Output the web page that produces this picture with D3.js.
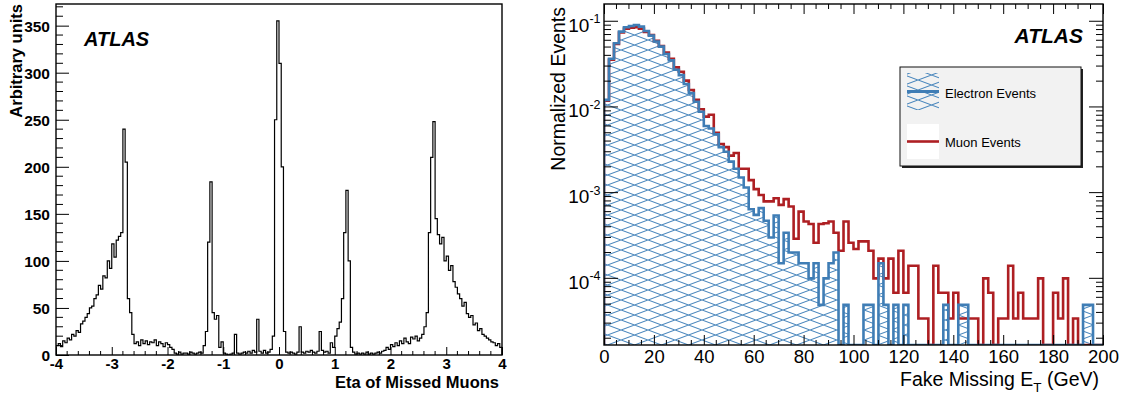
<!DOCTYPE html>
<html><head><meta charset="utf-8">
<script src="https://cdn.jsdelivr.net/npm/d3@7"></script>
<style>
body{margin:0;background:#fff;}
svg{display:block;}
text{font-family:"Liberation Sans",Arial,Helvetica,sans-serif;}
</style>
</head><body>
<svg id="c" width="1129" height="396"></svg>
<script>
// ---------------- data ----------------
// Left panel: eta of missed muons, bins of 0.04 from -4 to 4 (arbitrary units)
const etaRange = [-4, 4];
const etaBinWidth = 0.04;
const missedMuonEta = [
  10,12,9,15,13,18,16,22,20,26,24,33,36,40,44,50,52,60,64,74,70,84,82,100,92,118,104,122,126,130,
  240,205,60,45,22,12,
  14,10,16,12,15,11,14,13,16,10,14,12,9,13,11,8,6,
  2,1,3,1,2,2,1,3,2,1,2,3,2,
  10,25,120,184,45,38,42,8,14,2,
  1,0,1,2,22,2,1,2,3,2,4,2,5,3,38,4,2,5,2,3,6,
  20,250,355,310,200,25,
  3,2,3,2,1,3,
  30,
  3,2,4,3,5,3,2,4,
  25,
  5,3,4,2,
  13,
  8,20,28,35,60,130,175,100,8,
  3,1,2,1,2,1,3,1,2,1,2,3,2,4,
  5,8,6,11,9,13,10,15,12,18,14,12,19,17,20,15,18,22,30,45,
  130,210,248,145,128,118,125,100,105,90,95,78,72,65,60,52,56,44,40,42,32,34,26,28,22,20,18,16,14,13,10,12,8
];
const leftYTicks = [0,50,100,150,200,250,300,350];
const leftXTicks = [-4,-3,-2,-1,0,1,2,3,4];

// Right panel: fake missing ET, bins of 2 GeV from 0 to 200 (normalized)
const metRange = [0, 200];
const metBinWidth = 2;
const electronEvents = [
  0.0121,0.0365,0.0553,0.0756,0.085,0.088,0.0905,0.0865,0.077,0.068,
  0.058,0.0506,0.0415,0.035,0.0272,0.0235,0.0185,0.0145,0.0115,0.0088,
  0.006,0.0056,0.0048,0.0034,0.003,0.0023,0.0019,0.0015,0.00115,0.00064,
  0.00055,0.00066,0.00047,0.0003,0.00054,0.00015,0.00034,0.0002,0.0002,0.00015,
  0.00015,0.0001,0.00015,0.000049,0.0001,0.00015,0.0002,0,0.000049,0,
  0,0,0.000049,0.000049,0,0.00015,0.000049,0,0.000049,0,
  0.000049,0,0,0,0,0,0,0,0.000049,0,
  0,0.000049,0.000049,0,0,0,0,0,0,0,
  0,0,0,0,0,0,0,0,0,0,
  0,0,0,0,0,0,0.000049,0.000049,0,0
];
const muonEvents = [
  0.0118,0.0355,0.0545,0.074,0.082,0.084,0.085,0.082,0.075,0.069,
  0.059,0.0515,0.043,0.0365,0.029,0.0258,0.0203,0.0158,0.0121,0.0094,
  0.0077,0.0081,0.005,0.0037,0.0034,0.0027,0.0029,0.0019,0.0019,0.0014,
  0.0011,0.00094,0.00079,0.00079,0.00086,0.00072,0.00084,0.00069,0.00029,0.0006,
  0.00046,0.00043,0.00026,0.00043,0.00044,0.00046,0.00034,0.00021,0.00046,0.00026,
  0.00022,0.00027,0.00027,0.00021,0.0001,0.00017,0.0001,0.00017,0.000068,0.00021,
  0.000068,0.00014,0.00014,0.000034,0.000034,0,0.00014,0.000068,0.000068,0.000034,
  0.000068,0.000034,0.000034,0.000034,0.000034,0,0.0001,0.000068,0,0.000034,
  0.000034,0.00014,0.000034,0.000068,0.000034,0.000034,0.000034,0.0001,0,0,
  0.000068,0.000034,0.0001,0,0.000034,0,0,0,0,0
];
const rightXTicks = [0,20,40,60,80,100,120,140,160,180,200];
const rightYExponents = [-1,-2,-3,-4];
const legendLabels = ["Electron Events","Muon Events"];

// ---------------- drawing ----------------
const svg = d3.select("#c");
const blue = "#3f7db5", hatchBlue = "#4a87bd", red = "#ae1f23";

const defs = svg.append("defs");
const pat = defs.append("pattern").attr("id","hatch").attr("patternUnits","userSpaceOnUse")
  .attr("width",27).attr("height",10);
pat.append("path").attr("d","M0,0L27,10M0,10L27,0").attr("stroke",hatchBlue).attr("stroke-width",1.1).attr("fill","none");

// ===== Left panel =====
const L = {x0:56, x1:502, y0:4, y1:355};
const xL = d3.scaleLinear().domain(etaRange).range([L.x0, L.x1]);
const yL = d3.scaleLinear().domain([0,373]).range([L.y1, L.y0]);

defs.append("clipPath").attr("id","clipL").append("rect")
  .attr("x",L.x0).attr("y",L.y0).attr("width",L.x1-L.x0).attr("height",L.y1-L.y0);

const ptsL = [[xL(etaRange[0]), yL(0)]];
missedMuonEta.forEach((v,k)=>{
  const lo = etaRange[0] + k*etaBinWidth, hi = lo + etaBinWidth;
  ptsL.push([xL(lo), yL(v)], [xL(hi), yL(v)]);
});
ptsL.push([xL(etaRange[1]), yL(0)]);
svg.append("path").attr("clip-path","url(#clipL)")
  .attr("d", d3.line()(ptsL)).attr("fill","none").attr("stroke","#000").attr("stroke-width",1.2);

// left y axis
const gLy = svg.append("g").attr("transform",`translate(${L.x0},0)`)
  .call(d3.axisLeft(yL).tickValues(leftYTicks).tickSize(-13).tickPadding(6).tickFormat(d=>String(d)));
gLy.select(".domain").remove();
gLy.selectAll("text").attr("font-size",15.5).attr("font-weight","bold").attr("font-family","Liberation Sans, Arial").attr("dy","0.36em");
gLy.selectAll("line").attr("stroke","#000");
d3.range(0,371,10).filter(v=>v%50!==0).forEach(v=>{
  svg.append("line").attr("x1",L.x0).attr("x2",L.x0+7).attr("y1",yL(v)).attr("y2",yL(v)).attr("stroke","#000");
});
// left x axis
const gLx = svg.append("g").attr("transform",`translate(0,${L.y1})`)
  .call(d3.axisBottom(xL).tickValues(leftXTicks).tickSize(-8).tickPadding(3).tickFormat(d=>String(d)));
gLx.select(".domain").remove();
gLx.selectAll("text").attr("font-size",15).attr("font-weight","bold").attr("font-family","Liberation Sans, Arial");
gLx.selectAll("line").attr("stroke","#000");
d3.range(-4,4.001,0.2).forEach(v=>{
  if (Math.abs(v-Math.round(v))<1e-6) return;
  svg.append("line").attr("x1",xL(v)).attr("x2",xL(v)).attr("y1",L.y1).attr("y2",L.y1-4).attr("stroke","#000");
});
svg.append("rect").attr("x",L.x0).attr("y",L.y0).attr("width",L.x1-L.x0).attr("height",L.y1-L.y0)
  .attr("fill","none").attr("stroke","#000").attr("stroke-width",1.4);

svg.append("text").attr("x",84).attr("y",46).attr("font-size",20).attr("font-weight","bold")
  .attr("font-style","italic").text("ATLAS");
svg.append("text").attr("transform","translate(22,4) rotate(-90)").attr("text-anchor","end")
  .attr("font-size",16.5).attr("font-weight","bold").text("Arbitrary units");
svg.append("text").attr("x",499).attr("y",388).attr("text-anchor","end")
  .attr("font-size",16.5).attr("font-weight","bold").text("Eta of Missed Muons");

// ===== Right panel =====
const R = {x0:604, x1:1103, y0:4, y1:345};
const xR = d3.scaleLinear().domain(metRange).range([R.x0, R.x1]);
const yR = d3.scaleLog().domain([1.667e-5, 0.159]).range([R.y1, R.y0]).clamp(true);
const yv = v => v > 0 ? yR(v) : R.y1;

defs.append("clipPath").attr("id","clipR").append("rect")
  .attr("x",R.x0).attr("y",R.y0).attr("width",R.x1-R.x0).attr("height",R.y1-R.y0);

function histPts(vals){
  const p = [[xR(metRange[0]), R.y1]];
  vals.forEach((v,i)=>{
    const lo = metRange[0] + i*metBinWidth, hi = lo + metBinWidth;
    p.push([xR(lo), yv(v)], [xR(hi), yv(v)]);
  });
  p.push([xR(metRange[1]), R.y1]);
  return p;
}
const gR = svg.append("g").attr("clip-path","url(#clipR)");
gR.append("path").attr("d", d3.line()(histPts(electronEvents))+"Z").attr("fill","url(#hatch)").attr("stroke","none");
gR.append("path").attr("d", d3.line()(histPts(muonEvents))).attr("fill","none")
  .attr("stroke",red).attr("stroke-width",2.6);
gR.append("path").attr("d", d3.line()(histPts(electronEvents))).attr("fill","none")
  .attr("stroke",blue).attr("stroke-width",2.6);

// x axes (bottom with labels, top ticks only)
const gRx = svg.append("g").attr("transform",`translate(0,${R.y1})`)
  .call(d3.axisBottom(xR).tickValues(rightXTicks).tickSize(-10).tickPadding(5).tickFormat(d=>String(d)));
gRx.select(".domain").remove();
gRx.selectAll("text").attr("font-size",18.5).attr("font-family","Liberation Sans, Arial");
gRx.selectAll("line").attr("stroke","#000");
const gRxt = svg.append("g").attr("transform",`translate(0,${R.y0})`)
  .call(d3.axisTop(xR).tickValues(rightXTicks).tickSize(-10).tickFormat(""));
gRxt.select(".domain").remove();
gRxt.selectAll("line").attr("stroke","#000");
d3.range(0,201,5).filter(v=>v%20!==0).forEach(v=>{
  svg.append("line").attr("x1",xR(v)).attr("x2",xR(v)).attr("y1",R.y1).attr("y2",R.y1-5).attr("stroke","#000");
  svg.append("line").attr("x1",xR(v)).attr("x2",xR(v)).attr("y1",R.y0).attr("y2",R.y0+5).attr("stroke","#000");
});
// y axes (log)
const decadeVals = rightYExponents.map(e=>Math.pow(10,e));
[["L",R.x0,1],["R",R.x1,-1]].forEach(([s,x,dir])=>{
  decadeVals.forEach(v=>{
    svg.append("line").attr("x1",x).attr("x2",x+dir*14).attr("y1",yR(v)).attr("y2",yR(v)).attr("stroke","#000");
  });
  [-5,-4,-3,-2,-1].forEach(e=>{
    for(let m=2;m<=9;m++){
      const v = m*Math.pow(10,e);
      if (v < yR.domain()[0] || v > yR.domain()[1]) continue;
      svg.append("line").attr("x1",x).attr("x2",x+dir*7).attr("y1",yR(v)).attr("y2",yR(v)).attr("stroke","#000");
    }
  });
});
rightYExponents.forEach(e=>{
  const y = yR(Math.pow(10,e));
  const t = svg.append("text").attr("x",600.5).attr("y",y+10.5).attr("text-anchor","end").attr("font-size",19);
  t.append("tspan").text("10");
  t.append("tspan").attr("font-size",12.5).attr("dy",-8.5).text(String(e));
});
svg.append("rect").attr("x",R.x0).attr("y",R.y0).attr("width",R.x1-R.x0).attr("height",R.y1-R.y0)
  .attr("fill","none").attr("stroke","#000").attr("stroke-width",1.4);

svg.append("text").attr("transform","translate(565,7) rotate(-90)").attr("text-anchor","end")
  .attr("font-size",19.5).text("Normalized Events");
const xt = svg.append("text").attr("x",1099).attr("y",385.5).attr("text-anchor","end").attr("font-size",19.5);
xt.append("tspan").text("Fake Missing E");
xt.append("tspan").attr("font-size",13.5).attr("dy",6).text("T");
xt.append("tspan").attr("dy",-6).text(" (GeV)");

svg.append("text").attr("x",1083).attr("y",43).attr("text-anchor","end").attr("font-size",21)
  .attr("font-weight","bold").attr("font-style","italic").text("ATLAS");

// legend
const lg = {x:900, y:67, w:181, h:99};
svg.append("rect").attr("x",lg.x+2).attr("y",lg.y+2).attr("width",lg.w).attr("height",lg.h).attr("fill","#222");
svg.append("rect").attr("x",lg.x).attr("y",lg.y).attr("width",lg.w).attr("height",lg.h)
  .attr("fill","#f2f2f2").attr("stroke","#111").attr("stroke-width",1);
svg.append("rect").attr("x",907).attr("y",73).attr("width",32).attr("height",37).attr("fill","url(#hatch)");
svg.append("line").attr("x1",907).attr("x2",939).attr("y1",91.5).attr("y2",91.5).attr("stroke",blue).attr("stroke-width",3);
svg.append("rect").attr("x",907).attr("y",124).attr("width",32).attr("height",35).attr("fill","#fff");
svg.append("line").attr("x1",907).attr("x2",939).attr("y1",141.5).attr("y2",141.5).attr("stroke",red).attr("stroke-width",2.6);
svg.append("text").attr("x",945).attr("y",97.5).attr("font-size",13).text(legendLabels[0]);
svg.append("text").attr("x",945).attr("y",147).attr("font-size",13).text(legendLabels[1]);
</script>
</body></html>
